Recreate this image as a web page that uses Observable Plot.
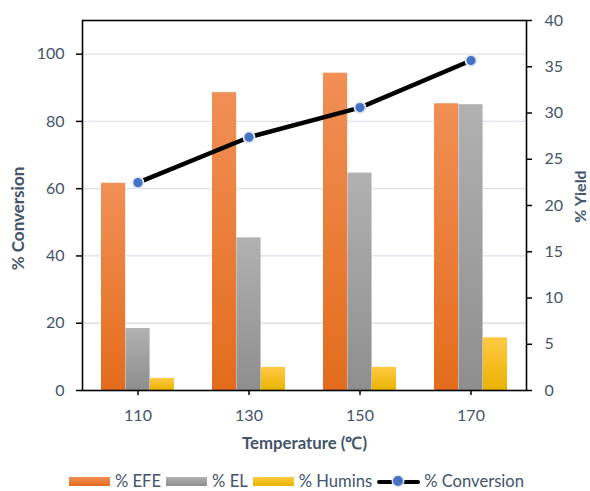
<!DOCTYPE html>
<html>
<head>
<meta charset="utf-8">
<script src="https://cdn.jsdelivr.net/npm/d3@7"></script>
<script src="https://cdn.jsdelivr.net/npm/@observablehq/plot@0.6"></script>
<style>
  body { margin: 0; background: #fff; font-family: Lato, "Open Sans", sans-serif; overflow: hidden; }
  #legend { box-sizing: border-box; display: flex; align-items: center; justify-content: center; height: 29px; padding-left: 8px; padding-top: 10px; color: #44546a; font-size: 16.6px; line-height: 1; }
  #legend .item { display: flex; align-items: center; margin-right: 5px; }
  #legend .sw { width: 41px; height: 9px; margin-right: 5px; }
  #legend .ln { position: relative; width: 43px; height: 9px; margin-right: 4px; }
  #legend .ln::before { content: ""; position: absolute; left: 0; right: 0; top: 3px; height: 4px; background: #000; border-radius: 2px; }
  #legend .ln::after { content: ""; position: absolute; left: 16px; top: -1px; width: 10px; height: 10px; border-radius: 50%; background: #4472c4; box-shadow: 0 0 0 1.5px #e3e8f1; }
</style>
</head>
<body>
<div id="chart"></div>
<div id="legend"></div>
<script>
// Reaction temperature (°C)
const temperatures = ["110", "130", "150", "170"];
// Product yields (%), right axis
const efe = [22.4, 32.2, 34.3, 31.0];
const el = [6.7, 16.5, 23.5, 30.9];
const humins = [1.3, 2.5, 2.5, 5.7];
// Substrate conversion (%), left axis
const conversion = [61.8, 75.3, 84.1, 98.1];

const seriesNames = ["% EFE", "% EL", "% Humins"];
const conversionTicks = [0, 20, 40, 60, 80, 100];
const yieldTicks = [0, 5, 10, 15, 20, 25, 30, 35, 40];
const conversionMax = 110;
const yieldMax = 40;

const gradients = {
  efe: ["#f18f55", "#e36c1c"],
  el: ["#b1b1b1", "#8e8e8e"],
  humins: ["#ffc944", "#eab300"]
};

// the shared y scale is the yield scale; conversion is mapped onto it
const toYield = (v) => v * yieldMax / conversionMax;
const toConversion = (v) => Math.round(v * conversionMax / yieldMax);

const width = 590, height = 462;
const margin = {top: 20, right: 64, bottom: 72, left: 82};
const padding = 0.34;
const step = (width - margin.left - margin.right) / temperatures.length;
const barW = step * (1 - padding) / 3;

const yieldRows = (values) => temperatures.map((t, i) => ({temp: t, value: values[i]}));
const convRows = temperatures.map((t, i) => ({temp: t, value: toYield(conversion[i])}));

const ink = "#44546a";

const chart = Plot.plot({
  width, height,
  marginTop: margin.top, marginRight: margin.right, marginBottom: margin.bottom, marginLeft: margin.left,
  style: {fontFamily: "Lato, 'Open Sans', sans-serif", background: "#fff"},
  x: {type: "band", domain: temperatures, paddingInner: padding, paddingOuter: padding / 2, axis: null},
  y: {domain: [0, yieldMax], axis: null},
  marks: [
    Plot.gridY(conversionTicks.slice(1).map(toYield), {stroke: "#dde1ea", strokeOpacity: 1, strokeWidth: 1.3}),
    Plot.barY(yieldRows(efe), {x: "temp", y: "value", fill: "url(#g-efe)", insetLeft: 0, insetRight: 2 * barW}),
    Plot.barY(yieldRows(el), {x: "temp", y: "value", fill: "url(#g-el)", insetLeft: barW, insetRight: barW}),
    Plot.barY(yieldRows(humins), {x: "temp", y: "value", fill: "url(#g-humins)", insetLeft: 2 * barW, insetRight: 0}),
    Plot.line(convRows, {x: "temp", y: "value", stroke: "#000", strokeWidth: 4.5}),
    Plot.dot(convRows, {x: "temp", y: "value", r: 5.5, fill: "#4472c4", stroke: "#e3e8f1", strokeWidth: 1.8}),
    Plot.frame({stroke: "#000", strokeWidth: 1.6}),
    Plot.axisY(conversionTicks.map(toYield), {
      anchor: "left", tickFormat: toConversion, label: null,
      tickSize: 6, tickPadding: 12, fontSize: 16, color: ink, stroke: "#000", strokeWidth: 1.5
    }),
    Plot.axisY(yieldTicks, {
      anchor: "right", label: null,
      tickSize: 5, tickPadding: 13, fontSize: 16, color: ink, stroke: "#000", strokeWidth: 1.5
    }),
    Plot.axisX({
      anchor: "bottom", label: null,
      tickSize: 5, tickPadding: 14, fontSize: 16, color: ink, stroke: "#000", strokeWidth: 1.5
    }),
    Plot.text(["Temperature (℃)"], {frameAnchor: "bottom", dy: 58, fontSize: 16.8, fontWeight: "bold", fill: ink}),
    Plot.text(["% Conversion"], {frameAnchor: "left", textAnchor: "middle", dx: -64, dy: 13, rotate: -90, fontSize: 17, fontWeight: "bold", fill: ink}),
    Plot.text(["% Yield"], {frameAnchor: "right", textAnchor: "middle", dx: 54, dy: -9, rotate: -90, fontSize: 16, fontWeight: "bold", fill: ink})
  ]
});

// vertical gradient fills for the bars, one per series
const defs = d3.select(chart).insert("defs", ":first-child");
for (const [key, [top, bottom]] of Object.entries(gradients)) {
  const g = defs.append("linearGradient").attr("id", `g-${key}`).attr("x1", 0).attr("y1", 0).attr("x2", 0).attr("y2", 1);
  g.append("stop").attr("offset", "0%").attr("stop-color", top);
  g.append("stop").attr("offset", "100%").attr("stop-color", bottom);
}
document.getElementById("chart").append(chart);

// legend
const legend = d3.select("#legend");
const keys = ["efe", "el", "humins"];
seriesNames.forEach((name, i) => {
  const [top, bottom] = gradients[keys[i]];
  const item = legend.append("div").attr("class", "item");
  item.append("div").attr("class", "sw").style("background", `linear-gradient(${top}, ${bottom})`);
  item.append("span").text(name);
});
const conv = legend.append("div").attr("class", "item");
conv.append("div").attr("class", "ln");
conv.append("span").text("% Conversion");
</script>
</body>
</html>
